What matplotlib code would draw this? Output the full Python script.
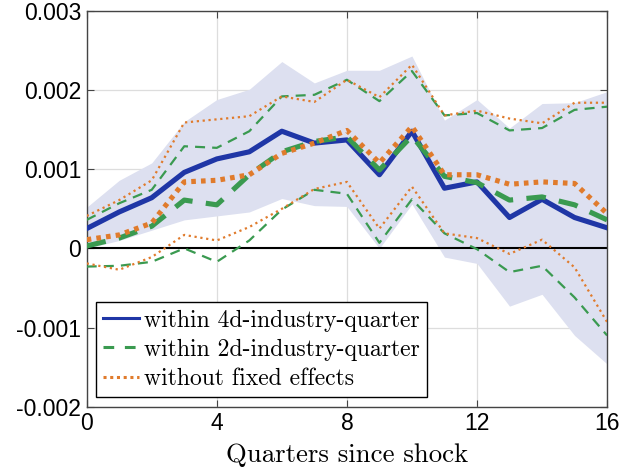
import numpy as np
import matplotlib.pyplot as plt

# quarters after the shock
quarters = np.arange(0, 17)

# within 4d-industry-quarter: point estimate and band
fe4d = [0.00025, 0.00046, 0.00064, 0.00096, 0.00113, 0.00122, 0.00148, 0.00133, 0.00137,
        0.00093, 0.00148, 0.00076, 0.00084, 0.00039, 0.00062, 0.00039, 0.00026]
fe4d_hi = [0.00052, 0.00086, 0.00108, 0.00160, 0.00188, 0.00201, 0.00236, 0.00209, 0.00225,
           0.00225, 0.00243, 0.00162, 0.00188, 0.00152, 0.00183, 0.00184, 0.00198]
fe4d_lo = [0.00000, 0.00010, 0.00023, 0.00036, 0.00041, 0.00046, 0.00063, 0.00054, 0.00053,
           0.00000, 0.00056, -0.00011, -0.00019, -0.00073, -0.00058, -0.00110, -0.00146]

# within 2d-industry-quarter
fe2d = [0.00003, 0.00013, 0.00028, 0.00061, 0.00055, 0.00093, 0.00122, 0.00135, 0.00141,
        0.00099, 0.00142, 0.00091, 0.00083, 0.00061, 0.00065, 0.00055, 0.00036]
fe2d_hi = [0.00036, 0.00057, 0.00074, 0.00129, 0.00127, 0.00148, 0.00192, 0.00194, 0.00213,
           0.00186, 0.00224, 0.00168, 0.00171, 0.00149, 0.00152, 0.00175, 0.00179]
fe2d_lo = [-0.00023, -0.00022, -0.00017, 0.00000, -0.00017, 0.00010, 0.00049, 0.00074, 0.00069,
           0.00007, 0.00062, 0.00019, -0.00001, -0.00030, -0.00022, -0.00062, -0.00110]

# without fixed effects
nofe = [0.00011, 0.00017, 0.00032, 0.00084, 0.00086, 0.00093, 0.00120, 0.00133, 0.00149,
        0.00108, 0.00154, 0.00093, 0.00093, 0.00081, 0.00084, 0.00082, 0.00044]
nofe_hi = [0.00041, 0.00061, 0.00086, 0.00159, 0.00163, 0.00167, 0.00192, 0.00185, 0.00213,
           0.00191, 0.00232, 0.00168, 0.00174, 0.00164, 0.00158, 0.00184, 0.00184]
nofe_lo = [-0.00019, -0.00027, -0.00011, 0.00017, 0.00010, 0.00027, 0.00050, 0.00075, 0.00084,
           0.00025, 0.00078, 0.00019, 0.00013, -0.00007, 0.00011, -0.00024, -0.00093]

blue = '#1f36a6'
green = '#3a9a50'
orange = '#e07b2c'

fig = plt.figure(figsize=(6.21, 4.74), dpi=100)
ax = fig.add_axes([0.1396, 0.142, 0.838, 0.835])

# banda de confianza del caso 4d
ax.fill_between(quarters, fe4d_lo, fe4d_hi, color='#dde0f0', lw=0, zorder=1)
ax.axhline(0, color='k', lw=1.5, zorder=2)

# bandas finas
ax.plot(quarters, fe2d_hi, '--', color=green, lw=1.6, dashes=(4.5, 3.2), zorder=3)
ax.plot(quarters, fe2d_lo, '--', color=green, lw=1.6, dashes=(4.5, 3.2), zorder=3)
ax.plot(quarters, nofe_hi, ':', color=orange, lw=1.6, zorder=3)
ax.plot(quarters, nofe_lo, ':', color=orange, lw=1.6, zorder=3)

# estimaciones puntuales
l1, = ax.plot(quarters, fe4d, '-', color=blue, lw=3.7, zorder=4,
              label='within 4d-industry-quarter')
l2, = ax.plot(quarters, fe2d, '--', color=green, lw=3.7, dashes=(3.8, 2.6), zorder=5,
              label='within 2d-industry-quarter')
l3, = ax.plot(quarters, nofe, ':', color=orange, lw=3.7, dashes=(0.9, 1.0), zorder=6,
              label='without fixed effects')

ax.set_xlim(0, 16)
ax.set_ylim(-0.002, 0.003)
ax.set_xticks([0, 4, 8, 12, 16])
ax.set_yticks([-0.002, -0.001, 0, 0.001, 0.002, 0.003])
ax.set_yticklabels(['-0.002', '-0.001', '0', '0.001', '0.002', '0.003'])
ax.tick_params(direction='in', top=True, right=True, labelsize=16.5, length=5,
               color='#444444', pad=4)
for lab in ax.get_xticklabels() + ax.get_yticklabels():
    lab.set_fontfamily('Liberation Sans')
ax.grid(True, color='#dddddd', lw=0.9)
ax.set_axisbelow(True)
for s in ax.spines.values():
    s.set_color('#444444')
    s.set_linewidth(1.0)

ax.set_xlabel('Quarters since shock', fontfamily='cmr10', fontsize=19.3, labelpad=6)

leg = ax.legend(handles=[l1, l2, l3], loc='lower left', bbox_to_anchor=(0.0, 0.0),
                prop={'family': 'cmr10', 'size': 17.1}, frameon=True, fancybox=False,
                handlelength=1.5, handletextpad=0.2, borderpad=0.3, labelspacing=0.3,
                borderaxespad=0.4)
leg.get_frame().set_edgecolor('k')
leg.get_frame().set_linewidth(1.0)
leg.get_frame().set_alpha(1)
# lineas de la leyenda mas finas
for h in leg.get_lines():
    h.set_linewidth(2.2)
leg.get_lines()[1].set_dashes((3.5, 3.5))
leg.get_lines()[2].set_dashes((1.0, 1.2))

fig.savefig('out.png', dpi=100)
